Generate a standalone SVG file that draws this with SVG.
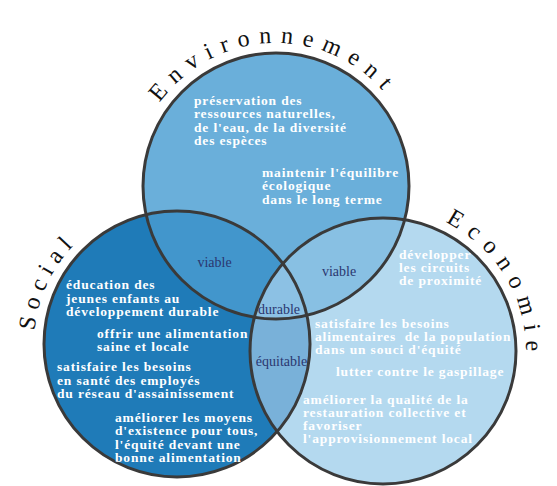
<svg xmlns="http://www.w3.org/2000/svg" width="557" height="486" viewBox="0 0 557 486">
<style>
.body{font-family:"Liberation Serif","DejaVu Serif",serif;font-weight:bold;font-size:13.5px;letter-spacing:0.85px;fill:#ffffff}
.lbl{font-family:"Liberation Serif","DejaVu Serif",serif;font-size:14px;fill:#2b3770;text-anchor:middle}
.title{font-family:"Liberation Serif","DejaVu Serif",serif;font-size:24px;fill:#111111}
.ring{fill:none;stroke:#3a3a3a;stroke-width:3}
</style>
<defs>
<clipPath id="cEnv"><circle cx="276" cy="186" r="133"/></clipPath>
<clipPath id="cSoc"><circle cx="177" cy="344" r="133"/></clipPath>
<clipPath id="cEco"><circle cx="383" cy="351" r="133"/></clipPath>
<path id="pEnv" d="M133,186 A143,143 0 0 1 419,186"/>
<path id="pSoc" d="M177,487 A143,143 0 0 1 177,201"/>
<path id="pEco" d="M383,208 A143,143 0 0 1 383,494"/>
</defs>
<rect width="557" height="486" fill="#ffffff"/>
<g id="fills">
<circle cx="276" cy="186" r="133" fill="#6aafda"/>
<circle cx="177" cy="344" r="133" fill="#1f7bb8"/>
<circle cx="383" cy="351" r="133" fill="#b4d9ef"/>
<g clip-path="url(#cEnv)"><circle cx="177" cy="344" r="133" fill="#4296cc"/></g>
<g clip-path="url(#cEnv)"><circle cx="383" cy="351" r="133" fill="#88c0e3"/></g>
<g clip-path="url(#cSoc)"><circle cx="383" cy="351" r="133" fill="#79b1d9"/></g>
<g clip-path="url(#cEnv)"><g clip-path="url(#cSoc)"><circle cx="383" cy="351" r="133" fill="#8cc1e4"/></g></g>
</g>
<g id="connectors">
<circle class="ring" cx="276" cy="186" r="133"/>
<circle class="ring" cx="177" cy="344" r="133"/>
<circle class="ring" cx="383" cy="351" r="133"/>
</g>
<g id="environnement">
<text class="title" letter-spacing="9"><textPath href="#pEnv" startOffset="49.25%" text-anchor="middle">Environnement</textPath></text>
<text class="body"><tspan x="194" y="105">préservation des</tspan><tspan x="194" y="118">ressources naturelles,</tspan><tspan x="194" y="131.5">de l'eau, de la diversité</tspan><tspan x="194" y="144.5">des espèces</tspan></text>
<text class="body"><tspan x="262" y="177">maintenir l'équilibre</tspan><tspan x="262" y="190">écologique</tspan><tspan x="262" y="203.5">dans le long terme</tspan></text>
</g>
<g id="social">
<text class="title" letter-spacing="7"><textPath href="#pSoc" startOffset="64.3%" text-anchor="middle">Social</textPath></text>
<text class="body"><tspan x="66" y="289">éducation des</tspan><tspan x="66" y="302.5">jeunes enfants au</tspan><tspan x="66" y="316">développement durable</tspan></text>
<text class="body"><tspan x="97" y="337.5">offrir une alimentation</tspan><tspan x="97" y="351">saine et locale</tspan></text>
<text class="body"><tspan x="57" y="371">satisfaire les besoins</tspan><tspan x="57" y="384.5">en santé des employés</tspan><tspan x="57" y="398">du réseau d'assainissement</tspan></text>
<text class="body"><tspan x="115" y="421.5">améliorer les moyens</tspan><tspan x="115" y="435">d'existence pour tous,</tspan><tspan x="115" y="448.5">l'équité devant une</tspan><tspan x="115" y="461.5">bonne alimentation</tspan></text>
</g>
<g id="economie">
<text class="title" letter-spacing="9"><textPath href="#pEco" startOffset="33.2%" text-anchor="middle">Economie</textPath></text>
<text class="body"><tspan x="399" y="258.5">développer</tspan><tspan x="399" y="272">les circuits</tspan><tspan x="399" y="285">de proximité</tspan></text>
<text class="body" xml:space="preserve"><tspan x="315" y="327.5">satisfaire les besoins</tspan><tspan x="315" y="341">alimentaires  de la population</tspan><tspan x="315" y="354">dans un souci d'équité</tspan></text>
<text class="body"><tspan x="336" y="376">lutter contre le gaspillage</tspan></text>
<text class="body"><tspan x="303" y="403.5">améliorer la qualité de la</tspan><tspan x="303" y="417">restauration collective et</tspan><tspan x="303" y="430">favoriser</tspan><tspan x="303" y="443">l'approvisionnement local</tspan></text>
</g>
<g id="intersections">
<text class="lbl" x="214.5" y="267">viable</text>
<text class="lbl" x="339" y="276">viable</text>
<text class="lbl" x="279" y="313.5">durable</text>
<text class="lbl" x="281.5" y="366">équitable</text>
</g>
</svg>
